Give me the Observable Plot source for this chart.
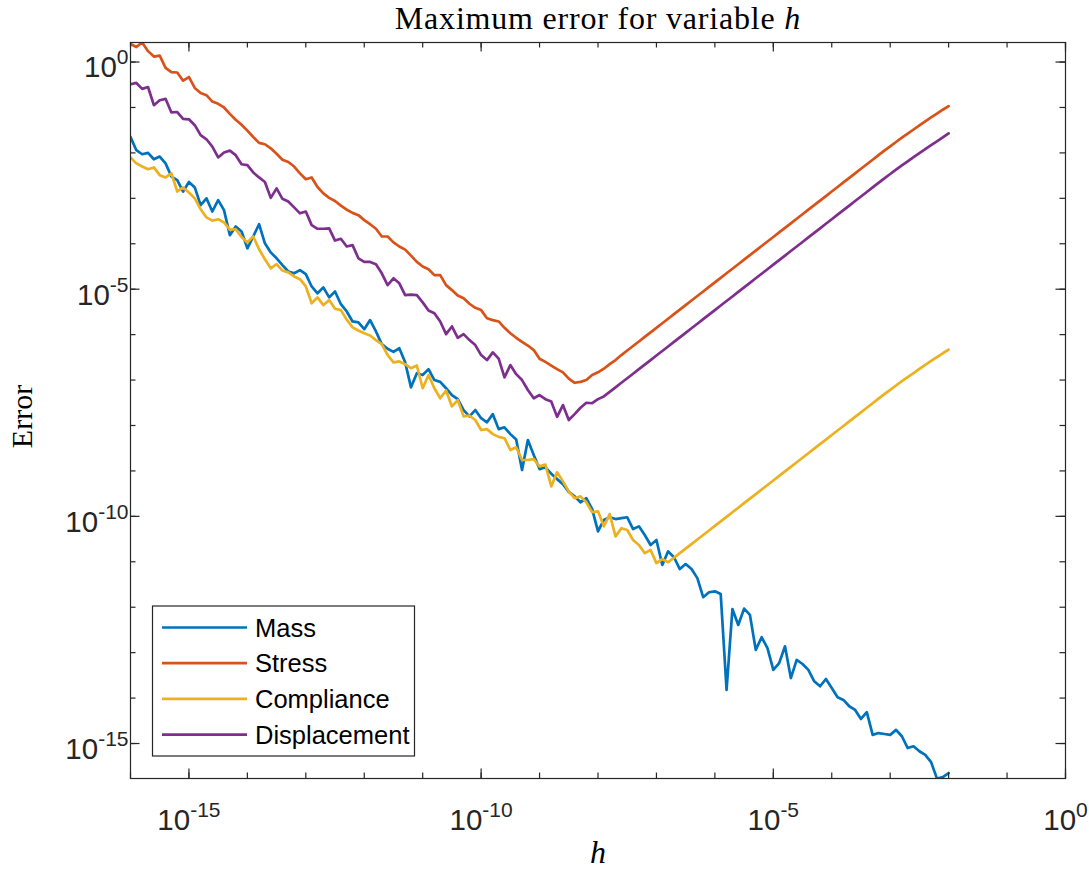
<!DOCTYPE html>
<html>
<head>
<meta charset="utf-8">
<script src="https://cdn.jsdelivr.net/npm/d3@7"></script>
<script src="https://cdn.jsdelivr.net/npm/@observablehq/plot@0.6"></script>
<style>
  body { margin: 0; background: #fff; }
  #chart { position: relative; width: 1089px; height: 870px; }
</style>
</head>
<body>
<div id="chart"></div>
<script>
// step sizes h (log10 exponents)
const hExp = [
  -16.0,-15.9,-15.8,-15.7,-15.6,-15.5,-15.4,-15.3,-15.2,-15.1,
  -15.0,-14.9,-14.8,-14.7,-14.6,-14.5,-14.4,-14.3,-14.2,-14.1,
  -14.0,-13.9,-13.8,-13.7,-13.6,-13.5,-13.4,-13.3,-13.2,-13.1,
  -13.0,-12.9,-12.8,-12.7,-12.6,-12.5,-12.4,-12.3,-12.2,-12.1,
  -12.0,-11.9,-11.8,-11.7,-11.6,-11.5,-11.4,-11.3,-11.2,-11.1,
  -11.0,-10.9,-10.8,-10.7,-10.6,-10.5,-10.4,-10.3,-10.2,-10.1,
  -10.0,-9.9,-9.8,-9.7,-9.6,-9.5,-9.4,-9.3,-9.2,-9.1,
  -9.0,-8.9,-8.8,-8.7,-8.6,-8.5,-8.4,-8.3,-8.2,-8.1,
  -8.0,-7.9,-7.8,-7.7,-7.6,-7.5,-7.4,-7.3,-7.2,-7.1,
  -7.0,-6.9,-6.8,-6.7,-6.6,-6.5,-6.4,-6.3,-6.2,-6.1,
  -6.0,-5.9,-5.8,-5.7,-5.6,-5.5,-5.4,-5.3,-5.2,-5.1,
  -5.0,-4.9,-4.8,-4.7,-4.6,-4.5,-4.4,-4.3,-4.2,-4.1,
  -4.0,-3.9,-3.8,-3.7,-3.6,-3.5,-3.4,-3.3,-3.2,-3.1,
  -3.0,-2.9,-2.8,-2.7,-2.6,-2.5,-2.4,-2.3,-2.2,-2.1,
  -2.0
];

// maximum error (log10 exponents), one value per h
const massExp = [
  -1.65,-1.94,-2.03,-2.00,-2.14,-2.08,-2.23,-2.52,-2.60,-2.85,
  -2.64,-2.76,-3.15,-3.00,-3.29,-3.04,-3.26,-3.81,-3.62,-3.73,
  -4.10,-3.84,-3.57,-3.99,-4.19,-4.32,-4.47,-4.61,-4.65,-4.58,
  -4.67,-4.94,-5.09,-4.96,-5.18,-5.05,-5.33,-5.49,-5.71,-5.73,
  -5.88,-5.68,-5.93,-6.21,-6.31,-6.38,-6.30,-6.61,-7.16,-6.85,
  -6.89,-6.76,-7.00,-7.04,-7.18,-7.33,-7.42,-7.66,-7.80,-7.66,
  -7.84,-7.93,-7.75,-8.08,-8.04,-8.19,-8.31,-8.98,-8.32,-8.65,
  -8.96,-8.92,-9.06,-9.18,-9.29,-9.46,-9.56,-9.69,-9.60,-9.84,
  -10.33,-10.08,-10.02,-10.06,-10.04,-10.02,-10.28,-10.22,-10.41,-10.63,
  -10.52,-11.07,-10.77,-10.90,-11.16,-11.05,-11.16,-11.36,-11.78,-11.67,
  -11.65,-11.71,-13.82,-12.04,-12.39,-12.03,-12.17,-12.94,-12.66,-12.90,
  -13.38,-13.23,-12.86,-13.56,-13.16,-13.25,-13.38,-13.63,-13.74,-13.58,
  -13.78,-13.98,-14.04,-14.18,-14.26,-14.46,-14.31,-14.81,-14.77,-14.79,
  -14.81,-14.70,-14.84,-15.10,-15.06,-15.17,-15.25,-15.41,-15.77,-15.74,
  -15.65
];

const stressExp = [
  0.40,0.33,0.43,0.24,0.12,0.14,-0.13,-0.22,-0.23,-0.41,
  -0.33,-0.57,-0.68,-0.73,-0.87,-0.92,-1.00,-1.14,-1.27,-1.38,
  -1.51,-1.65,-1.78,-1.81,-1.90,-2.02,-2.15,-2.20,-2.30,-2.45,
  -2.58,-2.54,-2.75,-2.89,-2.99,-3.06,-3.16,-3.25,-3.32,-3.37,
  -3.48,-3.57,-3.67,-3.84,-3.84,-3.97,-4.06,-4.13,-4.26,-4.40,
  -4.50,-4.56,-4.69,-4.69,-4.91,-5.02,-5.14,-5.20,-5.32,-5.41,
  -5.46,-5.64,-5.68,-5.71,-5.85,-5.97,-6.07,-6.16,-6.24,-6.34,
  -6.53,-6.60,-6.68,-6.76,-6.83,-6.97,-7.06,-7.04,-7.00,-6.89,
  -6.83,-6.75,-6.65,-6.56,-6.45,-6.35,-6.25,-6.15,-6.05,-5.95,
  -5.85,-5.75,-5.65,-5.55,-5.45,-5.35,-5.25,-5.15,-5.05,-4.95,
  -4.85,-4.75,-4.65,-4.55,-4.45,-4.35,-4.25,-4.15,-4.05,-3.95,
  -3.85,-3.75,-3.65,-3.55,-3.45,-3.35,-3.25,-3.15,-3.05,-2.95,
  -2.85,-2.75,-2.65,-2.55,-2.45,-2.35,-2.25,-2.15,-2.05,-1.95,
  -1.855,-1.76,-1.665,-1.575,-1.485,-1.395,-1.305,-1.22,-1.135,-1.05,
  -0.97
];

const complianceExp = [
  -2.10,-2.23,-2.30,-2.36,-2.32,-2.49,-2.54,-2.45,-2.85,-2.76,
  -2.87,-3.00,-3.24,-3.42,-3.49,-3.46,-3.53,-3.69,-3.68,-3.85,
  -3.97,-3.84,-4.12,-4.34,-4.54,-4.45,-4.59,-4.63,-4.72,-4.78,
  -4.94,-5.31,-5.18,-5.35,-5.24,-5.43,-5.46,-5.67,-5.84,-5.91,
  -5.97,-6.02,-6.12,-6.21,-6.45,-6.61,-6.59,-6.65,-6.74,-6.68,
  -7.18,-6.89,-7.18,-7.40,-7.23,-7.58,-7.44,-7.80,-7.78,-7.88,
  -8.10,-8.08,-8.19,-8.25,-8.28,-8.54,-8.48,-8.76,-8.76,-8.74,
  -8.90,-8.86,-9.34,-9.03,-9.23,-9.45,-9.60,-9.56,-9.69,-9.91,
  -9.89,-10.22,-9.95,-10.44,-10.26,-10.30,-10.52,-10.63,-10.81,-10.74,
  -11.03,-10.94,-11.01,-10.91,-10.81,-10.71,-10.61,-10.51,-10.41,-10.31,
  -10.21,-10.11,-10.01,-9.91,-9.81,-9.71,-9.61,-9.51,-9.41,-9.31,
  -9.21,-9.11,-9.01,-8.91,-8.81,-8.71,-8.61,-8.51,-8.41,-8.31,
  -8.21,-8.11,-8.01,-7.91,-7.81,-7.71,-7.61,-7.51,-7.41,-7.31,
  -7.215,-7.12,-7.025,-6.935,-6.845,-6.755,-6.665,-6.58,-6.495,-6.41,
  -6.33
];

const displacementExp = [
  -0.49,-0.46,-0.59,-0.55,-0.95,-0.84,-0.81,-1.11,-1.10,-1.25,
  -1.26,-1.39,-1.61,-1.70,-1.86,-2.10,-1.99,-1.95,-2.05,-2.25,
  -2.27,-2.43,-2.54,-2.64,-2.99,-2.78,-3.01,-3.07,-3.20,-3.33,
  -3.29,-3.59,-3.67,-3.67,-3.66,-3.93,-3.89,-4.06,-4.03,-4.32,
  -4.40,-4.40,-4.45,-4.65,-4.91,-4.76,-4.87,-5.13,-5.12,-5.13,
  -5.29,-5.47,-5.53,-5.71,-5.99,-5.82,-6.07,-5.99,-6.12,-6.23,
  -6.45,-6.56,-6.39,-6.53,-6.94,-6.67,-6.87,-7.00,-7.22,-7.40,
  -7.33,-7.42,-7.47,-7.81,-7.55,-7.88,-7.75,-7.61,-7.50,-7.51,
  -7.42,-7.36,-7.26,-7.16,-7.06,-6.96,-6.86,-6.76,-6.66,-6.56,
  -6.46,-6.36,-6.26,-6.16,-6.06,-5.96,-5.86,-5.76,-5.66,-5.56,
  -5.46,-5.36,-5.26,-5.16,-5.06,-4.96,-4.86,-4.76,-4.66,-4.56,
  -4.46,-4.36,-4.26,-4.16,-4.06,-3.96,-3.86,-3.76,-3.66,-3.56,
  -3.46,-3.36,-3.26,-3.16,-3.06,-2.96,-2.86,-2.76,-2.66,-2.56,
  -2.465,-2.37,-2.275,-2.185,-2.095,-2.005,-1.915,-1.83,-1.745,-1.66,
  -1.57
];

const seriesNames = ["Mass", "Stress", "Compliance", "Displacement"];
const seriesColors = ["#0072BD", "#D95319", "#EDB120", "#7E2F8E"];

// axis ticks (log10 exponents)
const xTickExp = [-16,-15,-14,-13,-12,-11,-10,-9,-8,-7,-6,-5,-4,-3,-2,-1,0];
const xLabelExp = [-15, -10, -5, 0];
const yTickExp = [-15,-14,-13,-12,-11,-10,-9,-8,-7,-6,-5,-4,-3,-2,-1,0];
const yLabelExp = [-15, -10, -5, 0];

const titleText = "Maximum error for variable h";
const xLabelText = "h";
const yLabelText = "Error";

// ---- build table ----
const seriesExp = [massExp, stressExp, complianceExp, displacementExp];
const rows = [];
seriesNames.forEach((name, k) => {
  seriesExp[k].forEach((v, i) => rows.push({series: name, h: 10 ** hExp[i], err: 10 ** v}));
});
const allErr = seriesExp.flat();
const yDomain = [10 ** d3.min(allErr), 10 ** d3.max(allErr)];

const W = 1089, H = 870;
const mL = 130, mR = 24, mT = 42, mB = 92;
const fW = W - mL - mR, fH = H - mT - mB;
const axisColor = "#262626";
const sans = "'Liberation Sans', Arial, Helvetica, sans-serif";
const serif = "'Liberation Serif', 'Times New Roman', serif";
const minorLen = 5.5, majorLen = 9.5;
const tickFont = 29.5, supFont = 21;

const svg = Plot.plot({
  width: W, height: H,
  marginLeft: mL, marginRight: mR, marginTop: mT, marginBottom: mB,
  x: {type: "log", domain: [1e-16, 1], axis: null},
  y: {type: "log", domain: yDomain, axis: null},
  color: {domain: seriesNames, range: seriesColors},
  style: {fontFamily: sans, fontSize: "27px", color: axisColor, background: "#fff", overflow: "visible"},
  marks: [
    Plot.line(rows, {x: "h", y: "err", z: "series", stroke: "series", strokeWidth: 2.7, clip: true, strokeLinejoin: "round"}),
    Plot.frame({stroke: axisColor, strokeWidth: 1.2}),
    // x ticks (inward, bottom & top)
    Plot.ruleX(xTickExp, {x: d => 10 ** d, insetTop: fH - minorLen, stroke: axisColor, strokeWidth: 1.2}),
    Plot.ruleX(xTickExp, {x: d => 10 ** d, insetBottom: fH - minorLen, stroke: axisColor, strokeWidth: 1.2}),
    Plot.ruleX(xLabelExp, {x: d => 10 ** d, insetTop: fH - majorLen, stroke: axisColor, strokeWidth: 1.2}),
    Plot.ruleX(xLabelExp, {x: d => 10 ** d, insetBottom: fH - majorLen, stroke: axisColor, strokeWidth: 1.2}),
    // y ticks (inward, left & right)
    Plot.ruleY(yTickExp, {y: d => 10 ** d, insetRight: fW - minorLen, stroke: axisColor, strokeWidth: 1.2}),
    Plot.ruleY(yTickExp, {y: d => 10 ** d, insetLeft: fW - minorLen, stroke: axisColor, strokeWidth: 1.2}),
    Plot.ruleY(yLabelExp, {y: d => 10 ** d, insetRight: fW - majorLen, stroke: axisColor, strokeWidth: 1.2}),
    Plot.ruleY(yLabelExp, {y: d => 10 ** d, insetLeft: fW - majorLen, stroke: axisColor, strokeWidth: 1.2}),
    // tick labels
    Plot.text(xLabelExp, {x: d => 10 ** d, frameAnchor: "bottom", lineAnchor: "middle", dy: 42, text: d => `10^${d}`, fontSize: tickFont, fill: axisColor, textAnchor: "middle"}),
    Plot.text(yLabelExp, {y: d => 10 ** d, frameAnchor: "left", lineAnchor: "middle", dx: -2, dy: 6, text: d => `10^${d}`, fontSize: tickFont, fill: axisColor, textAnchor: "end"}),
    // titles
    Plot.text([titleText], {frameAnchor: "top", lineAnchor: "middle", dy: -24, fontFamily: serif, fontSize: 32, fill: "#000", textAnchor: "middle"}),
    Plot.text([xLabelText], {frameAnchor: "bottom", lineAnchor: "middle", dy: 74, fontFamily: serif, fontStyle: "italic", fontSize: 32, fill: "#000", textAnchor: "middle"}),
    Plot.text([yLabelText], {frameAnchor: "left", lineAnchor: "middle", textAnchor: "middle", dx: -108, dy: 6, rotate: -90, fontFamily: serif, fontSize: 30, fill: "#000"})
  ]
});

// superscripts for "10^n" labels, italic h in title
const NS = "http://www.w3.org/2000/svg";
svg.querySelectorAll("text").forEach(t => {
  const s = t.textContent;
  const m = /^10\^(.+)$/.exec(s);
  if (m) {
    t.textContent = "";
    const base = document.createElementNS(NS, "tspan");
    base.textContent = "10";
    const sup = document.createElementNS(NS, "tspan");
    sup.textContent = m[1];
    sup.setAttribute("font-size", supFont);
    sup.setAttribute("dy", "-13");
    t.append(base, sup);
  } else if (s === titleText) {
    t.textContent = "Maximum error for variable ";
    t.setAttribute("letter-spacing", "0.8");
    const it = document.createElementNS(NS, "tspan");
    it.setAttribute("font-style", "italic");
    it.textContent = "h";
    t.append(it);
  }
});

// legend box inside the axes (lower left)
const lg = d3.select(svg).append("g").attr("aria-label", "legend");
const lgX = 152.5, lgY = 606, lgW = 262, lgH = 150, rowGap = 35.7;
lg.append("rect").attr("x", lgX).attr("y", lgY).attr("width", lgW).attr("height", lgH)
  .attr("fill", "#fff").attr("stroke", axisColor).attr("stroke-width", 1.2);
seriesNames.forEach((name, i) => {
  const cy = lgY + 21.5 + i * rowGap;
  lg.append("line").attr("x1", lgX + 9.5).attr("x2", lgX + 94.5).attr("y1", cy).attr("y2", cy)
    .attr("stroke", seriesColors[i]).attr("stroke-width", 2.7);
  lg.append("text").attr("x", lgX + 102.5).attr("y", cy).attr("dy", "0.36em")
    .attr("text-anchor", "start")
    .attr("font-family", sans).attr("font-size", 25.5).attr("fill", "#000").text(name);
});

document.getElementById("chart").appendChild(svg);
</script>
</body>
</html>
